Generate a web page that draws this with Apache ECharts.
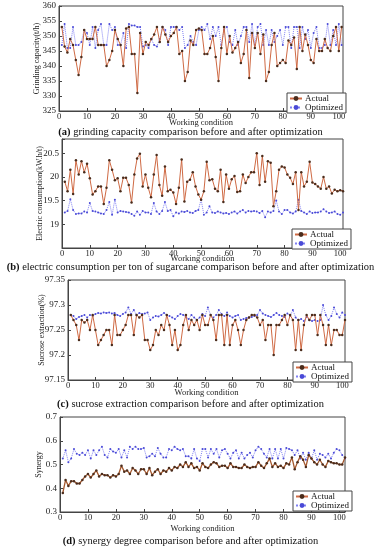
<!DOCTYPE html>
<html>
<head>
<meta charset="utf-8">
<script src="https://cdn.jsdelivr.net/npm/echarts@6/dist/echarts.min.js"></script>
<style>
html,body{margin:0;padding:0;background:#fff;}
#chart{width:381px;height:550px;}
</style>
</head>
<body>
<div id="chart"></div>
<script>
// ---------- data ----------
const xTicks = [0,10,20,30,40,50,60,70,80,90,100];

const aYTicks = [325,330,335,340,345,350,355,360];
const bYTicks = [19,19.5,20,20.5];
const cYTicks = [97.15,97.2,97.25,97.3,97.35];
const dYTicks = [0.3,0.4,0.5,0.6,0.7];

const aActual = [353,346.5,344.5,349,347,342,337,343,352,349,
 349,349,353,347,347,347,340,342,345,352,
 349,347,340,352.5,353,344,344,331,351,344,
 348,347,349,350.5,353,348,353,350.5,348,350,
 351,353,344,345,335,338,348.5,347,352,352.5,
 352,344,344,346,350,343,335,346,353,344,
 350,344.5,346,348,341,344,352,336,351,346,
 351,344,350.5,335,338,347,351,340,341,342,
 341,348.5,347,349.5,339,353,345,350.5,347,342,
 341,349,345,345,349,346,345,350,353,345,353];
const aOptimized = [347,354,346,346,353,347,347,348,352,351,
 347,353,346,352,354,347,347,354,352,353,
 347,347,351,346,354,353.5,353.5,353,353,346.5,
 347,346,349,347,346.5,349,353,352,347,353,
 353,353,352,353,346,347,350,348,347,352,
 353,352,354,349,353,350,353,347,352,353,
 348,347,352,347,350,353,353,348,354,347,
 353,354,347,352,347,352,348,350,352,347,
 353,353,346,353,353,346,353,349,352,346,
 351,353,346,346,347,354,347,352,347,354,347];

const bActual = [19.9,19.7,20.15,19.64,20.35,20.05,20.33,20.1,20.28,19.97,
 19.63,19.7,19.8,19.8,19.43,19.77,20.35,20.15,19.93,19.97,
 19.7,19.98,19.98,19.83,19.46,20.05,20.39,20.49,19.8,20.05,
 19.77,19.57,20.05,20.46,19.83,19.6,20.22,19.7,19.73,19.67,
 19.43,19.77,20.37,19.48,19.9,19.94,20.1,19.8,19.63,19.52,
 19.7,20.32,19.93,19.95,19.75,19.7,20.15,19.47,20.05,19.75,
 19.95,20.02,19.68,19.7,20.05,19.87,20.0,20.1,20.1,20.5,
 19.83,20.44,19.9,20.33,20.3,19.38,19.7,20.15,20.22,20.2,
 20.05,19.98,19.85,20.1,19.3,20.1,19.8,19.9,20.32,19.88,
 19.85,19.8,19.75,20.0,19.75,19.8,19.65,19.73,19.7,19.72,19.7];
const bOptimized = [19.25,19.28,19.53,19.3,19.22,19.23,19.23,19.27,19.25,19.45,
 19.28,19.27,19.25,19.23,19.22,19.3,19.47,19.2,19.52,19.25,
 19.28,19.27,19.26,19.25,19.22,19.18,19.27,19.2,19.28,19.25,
 19.25,19.22,19.45,19.27,19.22,19.28,19.47,19.28,19.3,19.17,
 19.25,19.23,19.27,19.26,19.28,19.25,19.24,19.28,19.3,19.52,
 19.2,19.25,19.38,19.25,19.24,19.27,19.25,19.23,19.24,19.22,
 19.25,19.27,19.23,19.27,19.3,19.25,19.28,19.27,19.28,19.27,
 19.24,19.28,19.15,19.27,19.25,19.28,19.5,19.27,19.22,19.3,
 19.3,19.25,19.23,19.27,19.52,19.28,19.25,19.22,19.27,19.24,
 19.25,19.25,19.27,19.32,19.27,19.24,19.25,19.27,19.22,19.2,19.25];

const cActual = [97.28,97.27,97.26,97.23,97.27,97.265,97.27,97.25,97.28,97.25,
 97.22,97.23,97.24,97.25,97.25,97.22,97.28,97.24,97.24,97.25,
 97.26,97.28,97.28,97.24,97.28,97.275,97.28,97.23,97.23,97.21,
 97.22,97.25,97.24,97.26,97.25,97.28,97.26,97.22,97.25,97.21,
 97.22,97.26,97.28,97.25,97.27,97.26,97.27,97.25,97.28,97.26,
 97.26,97.28,97.27,97.23,97.28,97.28,97.22,97.28,97.22,97.26,
 97.27,97.25,97.22,97.25,97.27,97.275,97.28,97.28,97.275,97.26,
 97.27,97.23,97.26,97.26,97.2,97.26,97.26,97.27,97.28,97.26,
 97.28,97.27,97.21,97.27,97.21,97.26,97.28,97.27,97.28,97.28,
 97.24,97.28,97.26,97.22,97.26,97.22,97.25,97.25,97.24,97.24,97.27];
const cOptimized = [97.28,97.278,97.272,97.276,97.278,97.28,97.275,97.28,97.278,97.282,
 97.284,97.283,97.285,97.284,97.285,97.283,97.284,97.28,97.278,97.282,
 97.285,97.295,97.282,97.29,97.28,97.284,97.282,97.283,97.285,97.27,
 97.275,97.278,97.277,97.28,97.284,97.28,97.278,97.275,97.272,97.278,
 97.282,97.28,97.276,97.272,97.28,97.275,97.27,97.275,97.282,97.278,
 97.295,97.28,97.275,97.28,97.29,97.282,97.278,97.285,97.278,97.275,
 97.278,97.28,97.27,97.272,97.274,97.275,97.276,97.278,97.28,97.29,
 97.283,97.28,97.278,97.276,97.28,97.284,97.28,97.278,97.276,97.283,
 97.278,97.29,97.275,97.27,97.272,97.268,97.276,97.27,97.268,97.27,
 97.268,97.27,97.3,97.28,97.27,97.278,97.295,97.282,97.275,97.285,97.28];

const dActual = [0.38,0.435,0.41,0.43,0.43,0.42,0.42,0.435,0.45,0.46,
 0.445,0.46,0.475,0.45,0.46,0.455,0.455,0.445,0.455,0.45,
 0.46,0.495,0.47,0.475,0.46,0.485,0.475,0.46,0.48,0.48,
 0.46,0.485,0.455,0.47,0.48,0.46,0.475,0.47,0.485,0.475,
 0.49,0.485,0.5,0.49,0.51,0.49,0.505,0.485,0.49,0.475,
 0.505,0.49,0.485,0.5,0.51,0.505,0.49,0.495,0.495,0.485,
 0.505,0.49,0.49,0.485,0.485,0.5,0.49,0.485,0.49,0.49,
 0.51,0.495,0.485,0.505,0.525,0.49,0.505,0.49,0.495,0.485,
 0.505,0.5,0.53,0.48,0.51,0.535,0.52,0.49,0.54,0.525,
 0.51,0.5,0.52,0.5,0.49,0.515,0.51,0.505,0.505,0.5,0.5,0.53];
const dOptimized = [0.525,0.56,0.51,0.525,0.565,0.545,0.54,0.55,0.54,0.56,
 0.525,0.56,0.54,0.56,0.575,0.54,0.53,0.565,0.555,0.55,
 0.565,0.53,0.56,0.53,0.575,0.565,0.575,0.565,0.565,0.57,
 0.53,0.535,0.545,0.535,0.57,0.545,0.53,0.53,0.565,0.56,
 0.575,0.565,0.56,0.565,0.535,0.535,0.525,0.565,0.525,0.515,
 0.565,0.565,0.53,0.565,0.545,0.565,0.53,0.56,0.565,0.545,
 0.525,0.55,0.56,0.525,0.55,0.525,0.54,0.55,0.53,0.56,
 0.575,0.565,0.545,0.53,0.565,0.525,0.565,0.525,0.565,0.525,
 0.57,0.565,0.56,0.54,0.56,0.525,0.55,0.52,0.55,0.525,
 0.56,0.52,0.545,0.54,0.53,0.545,0.525,0.55,0.565,0.56,0.54,0.525];

const yNames = ['Grinding capacity(t/h)','Electric consumption(kW.h/t)','Sucrose extraction(%)','Synergy'];
const captionTags = ['(a)','(b)','(c)','(d)'];
const captionTexts = ['grinding capacity comparison before and after optimization',
 'electric consumption per ton of sugarcane comparison before and after optimization',
 'sucrose extraction comparison before and after optimization',
 'synergy degree comparison before and after optimization'];
const seriesNames = ['Actual','Optimized'];

// ---------- layout / style ----------
const FONT = "'Liberation Serif','Times New Roman',serif";
const grids = [
  {left:59, top:6, width:284, height:105},
  {left:62, top:139, width:281, height:109},
  {left:68, top:280, width:277, height:100},
  {left:60, top:417, width:285, height:95}
];
const yRange = [
  {min:325, max:360, interval:5, ticks:aYTicks},
  {min:18.5, max:20.8, interval:0.5, ticks:bYTicks},
  {min:97.15, max:97.35, interval:0.05, ticks:cYTicks},
  {min:0.3, max:0.7, interval:0.1, ticks:dYTicks}
];
const xMax = [101.5, 101, 101, 102];
const xNameGap = [7, 6, 8, 12];
const yNameGap = [18, 18, 22, 17];
const capTop = [127, 262, 399, 536];
const legendPos = [{left:287, top:93},{left:292, top:229},{left:293, top:362},{left:293, top:491}];
const actualData = [aActual,bActual,cActual,dActual];
const optData = [aOptimized,bOptimized,cOptimized,dOptimized];

function near(list, v){
  for (const t of list){ if (Math.abs(t - v) < 1e-6) return String(t); }
  return '';
}

const option = {
  animation:false,
  backgroundColor:'#fff',
  title: captionTexts.map((t,i)=>({
    text:'{b|'+captionTags[i]+'} '+t,
    left:'center', top:capTop[i], padding:0,
    textStyle:{fontFamily:FONT, fontSize:10.5, fontWeight:'normal', color:'#111',
      rich:{b:{fontFamily:FONT, fontSize:10.5, fontWeight:'bold', color:'#111'}}}
  })),
  grid: grids.map(g=>Object.assign({show:true, borderColor:'#444', borderWidth:1, backgroundColor:'transparent', containLabel:false}, g)),
  xAxis: grids.map((g,i)=>({
    type:'value', gridIndex:i, min:0, max:xMax[i], interval:10,
    name:'Working condition', nameLocation:'middle', nameGap:xNameGap[i], nameMoveOverlap:false,
    nameTextStyle:{fontFamily:FONT, fontSize:8.5, color:'#222', verticalAlign:'top'},
    axisLine:{lineStyle:{color:'#444'}},
    axisTick:{inside:true, length:3, lineStyle:{color:'#444'}},
    axisLabel:{fontFamily:FONT, fontSize:8.5, color:'#222', margin:1,
      formatter:v=>near(xTicks, v)},
    splitLine:{show:false}
  })),
  yAxis: grids.map((g,i)=>({
    type:'value', gridIndex:i, min:yRange[i].min, max:yRange[i].max, interval:yRange[i].interval,
    name:yNames[i], nameLocation:'middle', nameGap:yNameGap[i], nameMoveOverlap:false,
    nameTextStyle:{fontFamily:FONT, fontSize:8, color:'#222'},
    axisLine:{show:true, lineStyle:{color:'#444'}},
    axisTick:{show:true, inside:true, length:3, lineStyle:{color:'#444'}},
    axisLabel:{fontFamily:FONT, fontSize:9, color:'#222', margin:3,
      formatter:v=>near(yRange[i].ticks, v)},
    splitLine:{show:false}
  })),
  legend: legendPos.map((p,i)=>({
    left:p.left, top:p.top, orient:'vertical', itemGap:0, itemWidth:12, itemHeight:6,
    padding:[1,3,1,2], borderColor:'#444', borderWidth:1, backgroundColor:'#fff',
    textStyle:{fontFamily:FONT, fontSize:9, color:'#111', padding:[0,0,0,-2]},
    data:seriesNames
  })),
  series: []
};

for (let i=0;i<4;i++){
  option.series.push({
    name:'Actual', type:'line', xAxisIndex:i, yAxisIndex:i,
    data:actualData[i].map((v,k)=>[k+1, v]),
    symbol:'circle', symbolSize:2.5, showSymbol:true,
    lineStyle:{color: i===3 ? '#a4582e' : '#cf6a44', width: i===3 ? 1.3 : 1},
    itemStyle:{color:'#4a2c1c'}, z:3
  });
  option.series.push({
    name:'Optimized', type:'line', xAxisIndex:i, yAxisIndex:i,
    data:optData[i].map((v,k)=>[k+1, v]),
    symbol:'circle', symbolSize:2, showSymbol:true,
    lineStyle:{color:'#8080f4', width:1, type:'dotted'},
    itemStyle:{color:'#4a4ad6'}, z:2
  });
}

const chart = echarts.init(document.getElementById('chart'), null, {renderer:'canvas'});
chart.setOption(option);
</script>
</body>
</html>
